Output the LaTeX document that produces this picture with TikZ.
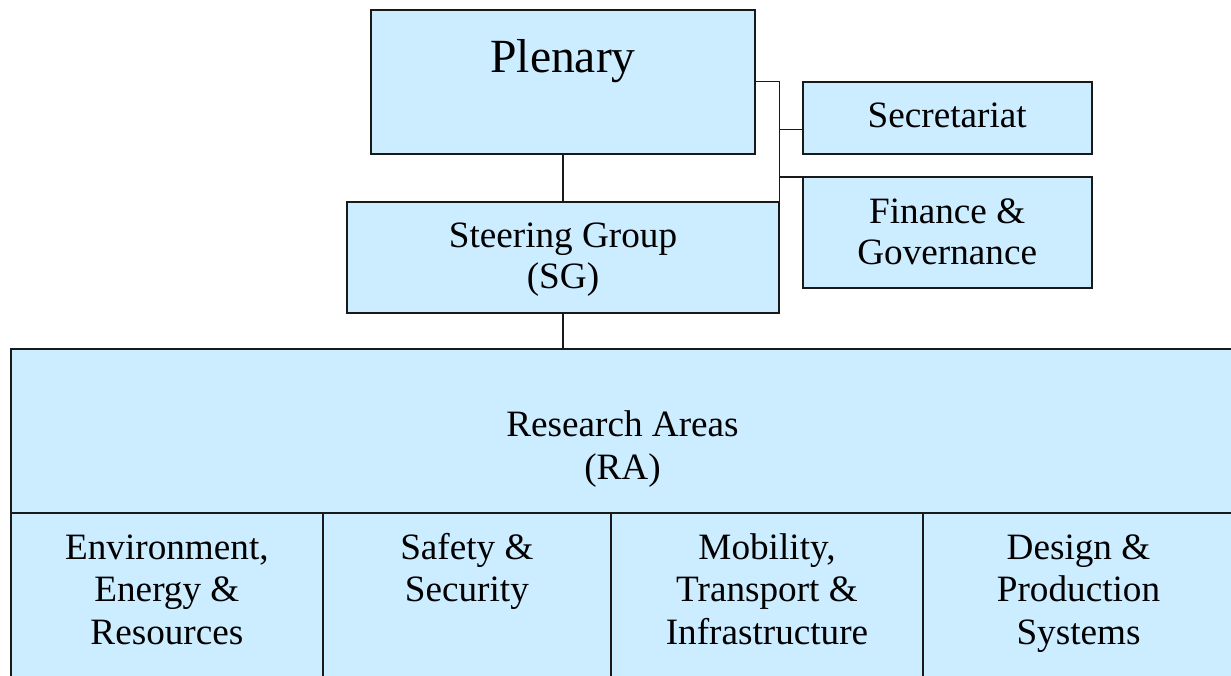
\documentclass[tikz,border=0pt]{standalone}
\usepackage{fontspec}
\setmainfont{Liberation Serif}
\definecolor{boxfill}{RGB}{204,236,255}
\definecolor{boxline}{RGB}{25,25,25}
\newcommand\mystrut{\rule[-10pt]{0pt}{40pt}}
\tikzset{
  orgbox/.style={draw=boxline, line width=1.9pt, fill=boxfill, rectangle, inner sep=0pt, outer sep=0pt},
  conn/.style={draw=boxline, line width=1.6pt},
  toptext/.style={inner sep=0pt, align=center, font=\fontsize{37.2}{40.6}\selectfont},
  bottext/.style={inner sep=0pt, align=center, font=\fontsize{37.2}{42.3}\selectfont}
}
\begin{document}
\begin{tikzpicture}[x=1pt, y=-1pt]
\clip (0,0) rectangle (1231,676);
\fill[white] (0,0) rectangle (1231,676);
% boxes
\node[orgbox, minimum width=384.7pt, minimum height=144pt] (plen) at (563,81.7) {};
\node[orgbox, minimum width=432.6pt, minimum height=111.6pt] (sg) at (563,257.5) {};
\node[orgbox, minimum width=289pt, minimum height=72pt] (sec) at (947.2,117.7) {};
\node[orgbox, minimum width=289pt, minimum height=111pt] (fin) at (947.2,232.8) {};
\node[orgbox, minimum width=1223pt, minimum height=164.3pt] (ra) at (622.5,431.2) {};
\node[orgbox, minimum width=311.7pt, minimum height=226.7pt] (c1) at (166.9,626.7) {};
\node[orgbox, minimum width=288.3pt, minimum height=226.7pt] (c2) at (466.9,626.7) {};
\node[orgbox, minimum width=312pt, minimum height=226.7pt] (c3) at (767,626.7) {};
\node[orgbox, minimum width=311pt, minimum height=226.7pt] (c4) at (1078.5,626.7) {};
% texts
\node[inner sep=0pt, anchor=base, font=\fontsize{47.6}{52}\selectfont] (plenT) at (563,72.7) {Plenary};
\node[toptext, anchor=north] (sgT) at (563,217.3) {\mystrut Steering Group\\\mystrut (SG)};
\node[inner sep=0pt, anchor=base, font=\fontsize{37.2}{40.6}\selectfont] (secT) at (947.2,127.7) {Secretariat};
\node[toptext, anchor=north] (finT) at (947.2,193.3) {\mystrut Finance \&\\\mystrut Governance};
\node[bottext, anchor=north] (raT) at (622.5,406.7) {\mystrut Research Areas\\\mystrut (RA)};
\node[bottext, anchor=north] (c1T) at (166.9,529.3) {\mystrut Environment,\\\mystrut Energy \&\\\mystrut Resources};
\node[bottext, anchor=north] (c2T) at (466.9,529.3) {\mystrut Safety \&\\\mystrut Security};
\node[bottext, anchor=north] (c3T) at (767,529.3) {\mystrut Mobility,\\\mystrut Transport \&\\\mystrut Infrastructure};
\node[bottext, anchor=north] (c4T) at (1078.5,529.3) {\mystrut Design \&\\\mystrut Production\\\mystrut Systems};
% connectors
\coordinate (j) at (plen.east -| sg.east);
\coordinate (js) at (779.3,129.7);
\draw[conn] (plen.south) -- (sg.north);
\draw[conn] (sg.south) -- (sg.south |- ra.north);
\draw[conn] (plen.east) -- (j) -- (sg.north east);
\draw[conn] (js) -- (js -| sec.west);
\draw[conn] (fin.north west) -- (fin.north west -| j);
\end{tikzpicture}
\end{document}
